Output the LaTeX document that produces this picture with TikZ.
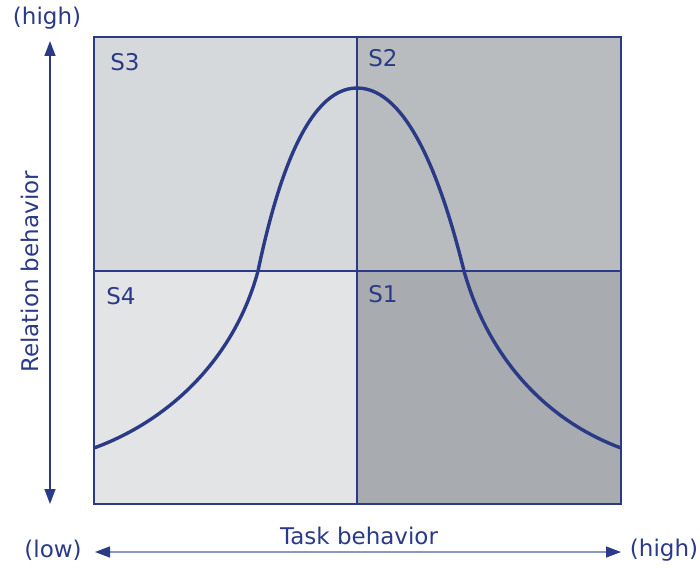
\documentclass[tikz,border=0pt]{standalone}
\usepackage{fontspec}
\setmainfont{DejaVu Sans}
\usetikzlibrary{arrows.meta}
\definecolor{sitBlue} {HTML}{2B3A87}
\definecolor{sitLine} {HTML}{8C96C2}
\definecolor{qThree}  {HTML}{D6D9DC}
\definecolor{qTwo}    {HTML}{B9BCBF}
\definecolor{qFour}   {HTML}{E3E4E6}
\definecolor{qOne}    {HTML}{A8ABAF}

\begin{document}
\begin{tikzpicture}[x=0.5pt,y=-0.5pt,font=\fontsize{11.5}{13}\selectfont,
      lbl/.style={text=sitBlue,inner sep=0pt},
      quad/.style={draw=sitBlue,line width=0.6pt},
      axis/.style={line width=0.7pt,
        {Triangle[length=7.5pt,width=5.5pt,sitBlue]}-{Triangle[length=7.5pt,width=5.5pt,sitBlue]}}]

    \useasboundingbox (0,0) rectangle (700,567);

    % quadrants
    \path[quad,fill=qThree] (94,37) rectangle (357,271);
    \path[quad,fill=qTwo]   (357,37) rectangle (621,271);
    \path[quad,fill=qFour]  (94,271) rectangle (357,504);
    \path[quad,fill=qOne]   (357,271) rectangle (621,504);

    \node[lbl] (s3) at (125,62) {S3};
    \node[lbl] (s2) at (383,58) {S2};
    \node[lbl] (s4) at (121,296) {S4};
    \node[lbl] (s1) at (383,294) {S1};

    % bell curve
    \draw[sitBlue,line width=1.7pt]
      (94,448) .. controls (168,421) and (234,360) .. (258,271)
               .. controls (275,190) and (305,88) .. (357,88)
               .. controls (410,88) and (444,190) .. (464,271)
               .. controls (489,360) and (548,421) .. (621,448);

    % axes
    \node[lbl] (yhigh) at (47,18) {(high)};
    \node[lbl,rotate=90] (ylab) at (30,272) {Relation behavior};
    \coordinate (ytop) at (50,41);
    \coordinate (ybot) at (50,504);
    \draw[axis,sitBlue] (ytop) -- (ybot);

    \node[lbl] (xlow) at (53,550) {(low)};
    \node[lbl] (xhigh) at (664,550) {(high)};
    \node[lbl] (xlab) at (359,536) {Task behavior};
    \coordinate (xleft) at (95,552);
    \coordinate (xright) at (621,552);
    \draw[axis,sitLine] (xleft) -- (xright);
\end{tikzpicture}
\end{document}
